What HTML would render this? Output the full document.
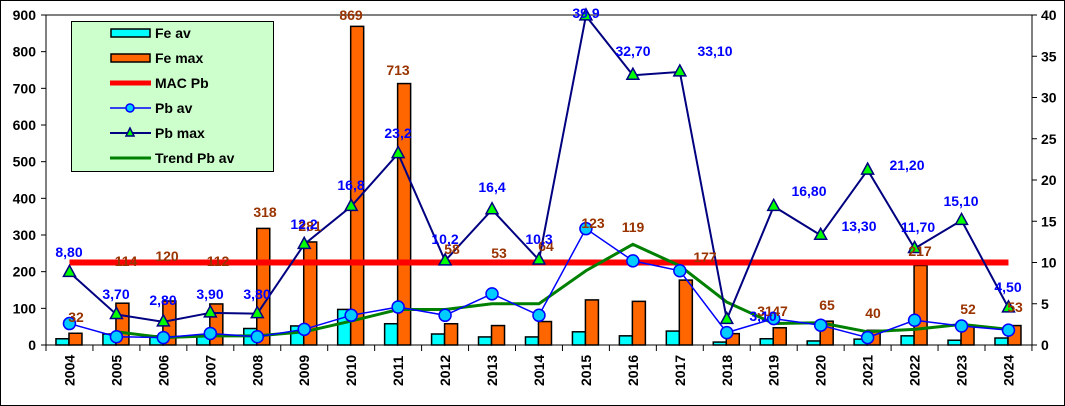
<!DOCTYPE html>
<html><head><meta charset="utf-8"><style>
html,body{margin:0;padding:0;background:#fff}
svg{display:block;font-family:"Liberation Sans",Arial,sans-serif;font-weight:bold}
</style></head><body>
<svg width="1065" height="406" viewBox="0 0 1065 406" xmlns="http://www.w3.org/2000/svg">
<rect x="0.5" y="0.5" width="1064" height="405" fill="#fff" stroke="#000"/>
<line x1="46" y1="15" x2="1032" y2="15" stroke="#808080" stroke-width="2"/>
<g id="g"></g>
</svg>
<script>
const NS="http://www.w3.org/2000/svg",g=document.getElementById('g');
function el(t,a,txt){const e=document.createElementNS(NS,t);for(const k in a)e.setAttribute(k,a[k]);if(txt!==undefined)e.textContent=txt;g.appendChild(e);return e;}
const W=46.95,cx=i=>46+W*(i+0.5),yl=v=>345-v*330/900,yr=v=>345-v*8.25;
const feav=[17,30,25,25,45,52,97,58,30,22,22,36,25,38,8,17,11,16,25,13,19];
const femax=[32,114,120,112,318,281,869,713,58,53,64,123,119,177,31,47,65,40,217,52,53];
const pbav=[2.6,1.0,0.9,1.4,1.0,1.9,3.6,4.6,3.6,6.2,3.6,14.1,10.2,9.0,1.5,3.2,2.4,0.9,3.0,2.3,1.8];
const pbmax=[8.8,3.7,2.8,3.9,3.8,12.2,16.8,23.2,10.2,16.4,10.3,39.9,32.7,33.1,3.1,16.8,13.3,21.2,11.7,15.1,4.5];
const trend=[null,1.6,0.9,1.1,1.1,1.6,2.9,4.3,4.3,5.0,5.0,9.0,12.2,9.6,5.2,2.6,2.7,1.6,1.9,2.5,1.9];
// axes
el('line',{x1:46,y1:15,x2:46,y2:345,stroke:'#000'});
el('line',{x1:1032,y1:15,x2:1032,y2:345,stroke:'#000'});
el('line',{x1:46,y1:345,x2:1032,y2:345,stroke:'#000'});
for(let v=0;v<=900;v+=100){const y=yl(v);el('line',{x1:41,y1:y,x2:46,y2:y,stroke:'#000'});el('text',{x:36,y:y+5,'text-anchor':'end','font-size':14},v);}
for(let v=0;v<=40;v+=5){const y=yr(v);el('line',{x1:1032,y1:y,x2:1037,y2:y,stroke:'#000'});el('text',{x:1041,y:y+5,'font-size':14},v);}
for(let i=0;i<=21;i++){const x=46+W*i;el('line',{x1:x,y1:345,x2:x,y2:351,stroke:'#000'});}
for(let i=0;i<21;i++){el('text',{transform:`translate(${cx(i)+5},386) rotate(-90)`,'font-size':14},2004+i);}
// bars
for(let i=0;i<21;i++){const c=cx(i)-0.5;
el('rect',{x:c-13,y:yl(feav[i]),width:13,height:345-yl(feav[i]),fill:'#00ffff',stroke:'#000','stroke-width':1.5});
el('rect',{x:c,y:yl(femax[i]),width:13,height:345-yl(femax[i]),fill:'#ff6600',stroke:'#000','stroke-width':1.5});}
// MAC
el('line',{x1:cx(0),y1:yr(10),x2:cx(20),y2:yr(10),stroke:'#ff0000','stroke-width':6});
// trend
el('polyline',{points:trend.map((v,i)=>v==null?'':cx(i)+','+yr(v)).join(' ').trim(),fill:'none',stroke:'#008000','stroke-width':3});
// pb av
el('polyline',{points:pbav.map((v,i)=>cx(i)+','+yr(v)).join(' '),fill:'none',stroke:'#0000ff','stroke-width':1.5});
pbav.forEach((v,i)=>el('circle',{cx:cx(i),cy:yr(v),r:6,fill:'#00ccff',stroke:'#0000ff','stroke-width':1.5}));
// pb max
el('polyline',{points:pbmax.map((v,i)=>cx(i)+','+yr(v)).join(' '),fill:'none',stroke:'#000080','stroke-width':2});
pbmax.forEach((v,i)=>{const x=cx(i),y=yr(v);el('polygon',{points:`${x},${y-7} ${x-6},${y+4} ${x+6},${y+4}`,fill:'#00ff00',stroke:'#000080','stroke-width':1.5});});
// labels
const blue=[["8,80",69,257],["3,70",116,299],["2,80",163,305],["3,90",210,299],["3,80",257,299],["12,2",304,229],["16,8",351,190],["23,2",398,138],["10,2",445,244],["16,4",492,192],["10,3",539,244],["39,9",586,18],["32,70",633,56],["33,10",715,56],["3,10",763,321],["16,80",809,196],["13,30",859,231],["21,20",907,170],["11,70",918,232],["15,10",961,206],["4,50",1008,292]];
const brown=[["32",76,322],["114",126,266],["120",167,261],["112",218,266],["318",265,217],["281",310,231],["869",351,20],["713",398,75],["58",452,254],["53",499,258],["64",546,251],["123",593,228],["119",633,232],["177",705,262],["31",765,316],["47",780,316],["65",827,310],["40",873,318],["217",920,256],["52",968,314],["53",1015,312]];
brown.forEach(([t,x,y])=>el('text',{x,y,'text-anchor':'middle','font-size':14,fill:'#993300'},t));
blue.forEach(([t,x,y])=>el('text',{x,y,'text-anchor':'middle','font-size':14,fill:'#0000ff'},t));
// legend
el('rect',{x:71.5,y:21.5,width:202,height:150,fill:'#ccffcc',stroke:'#000'});
const ly=[33,58,83,108,133,158];
el('rect',{x:111,y:29,width:39,height:8,fill:'#00ffff',stroke:'#000','stroke-width':1.5});
el('rect',{x:111,y:54,width:39,height:8,fill:'#ff6600',stroke:'#000','stroke-width':1.5});
el('line',{x1:110,y1:83,x2:151,y2:83,stroke:'#ff0000','stroke-width':5});
el('line',{x1:110,y1:108,x2:151,y2:108,stroke:'#0000ff','stroke-width':1.5});
el('circle',{cx:130,cy:108,r:4,fill:'#00ccff',stroke:'#0000ff','stroke-width':1.5});
el('line',{x1:110,y1:133,x2:151,y2:133,stroke:'#000080','stroke-width':2});
el('polygon',{points:'130,128 126,136 134,136',fill:'#00ff00',stroke:'#000080','stroke-width':1.5});
el('line',{x1:110,y1:158,x2:151,y2:158,stroke:'#008000','stroke-width':3});
["Fe av","Fe max","MAC Pb","Pb av","Pb max","Trend Pb av"].forEach((t,i)=>el('text',{x:155,y:ly[i]+5,'font-size':14},t));
</script>
</body></html>
